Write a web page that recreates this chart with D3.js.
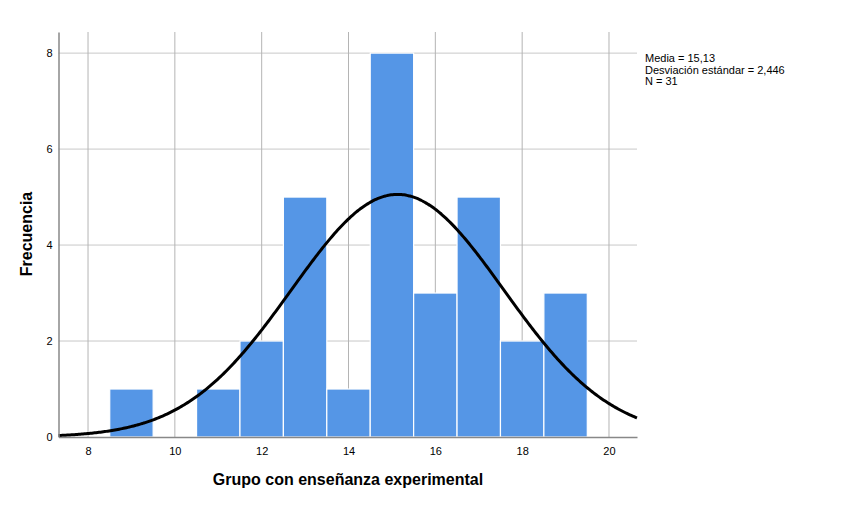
<!DOCTYPE html>
<html><head><meta charset="utf-8">
<script src="https://cdn.jsdelivr.net/npm/d3@7"></script>
<style>body{margin:0;background:#fff}svg{display:block}text{font-family:Arial,"Liberation Sans",sans-serif}</style>
</head><body>
<svg id="c" width="850" height="526"></svg>
<script>
const binCenters = [9, 11, 12, 13, 14, 15, 16, 17, 18, 19];
const frequencies = [1, 1, 2, 5, 1, 8, 3, 5, 2, 3];
const xTicks = [8, 10, 12, 14, 16, 18, 20];
const yTicks = [0, 2, 4, 6, 8];
const statsLines = ["Media = 15,13", "Desviación estándar = 2,446", "N = 31"];
const mean = 15.13, sd = 2.446, n = 31, binWidth = 1;

const svg = d3.select("#c");
const L = 58.5, R = 637, T = 32, B = 437;
const x = d3.scaleLinear().domain([7.32, 20.645]).range([L, R]);
const y = d3.scaleLinear().domain([0, 8.44]).range([B, T]);

// gridlines
svg.append("g").selectAll("line").data(yTicks.filter(d=>d>0)).join("line")
  .attr("x1", L).attr("x2", R).attr("y1", d=>y(d)).attr("y2", d=>y(d))
  .attr("stroke", "#c8c8c8").attr("stroke-width", 1);
svg.append("g").selectAll("line").data(xTicks).join("line")
  .attr("x1", d=>x(d)).attr("x2", d=>x(d)).attr("y1", T).attr("y2", B)
  .attr("stroke", "#b4b4b4").attr("stroke-width", 1);

// bars
svg.append("g").selectAll("rect").data(binCenters).join("rect")
  .attr("x", (d)=>x(d - binWidth/2))
  .attr("width", d=>x(d + binWidth/2) - x(d - binWidth/2))
  .attr("y", (d,i)=>y(frequencies[i]))
  .attr("height", (d,i)=>y(0) - y(frequencies[i]))
  .attr("fill", "#5596e6").attr("stroke", "#ffffff").attr("stroke-width", 1.2);

// normal curve from stated statistics
const pts = d3.range(0, 401).map(i => {
  const v = 7.32 + (20.645 - 7.32) * i / 400;
  return [v, n * binWidth / (sd * Math.sqrt(2*Math.PI)) * Math.exp(-0.5*((v-mean)/sd)**2)];
});
svg.append("path").datum(pts)
  .attr("d", d3.line().x(d=>x(d[0])).y(d=>y(d[1])).curve(d3.curveBasis))
  .attr("fill", "none").attr("stroke", "#000").attr("stroke-width", 3);

// axes
const xa = svg.append("g").attr("transform", `translate(0,${B})`)
  .call(d3.axisBottom(x).tickValues(xTicks).tickSize(0).tickPadding(10).tickFormat(d3.format("d")));
xa.select(".domain").attr("stroke", "#888").attr("stroke-width", 1.5);
xa.selectAll("text").attr("font-size", 11).attr("fill", "#000").attr("font-family", "Arial,'Liberation Sans',sans-serif");
const ya = svg.append("g").attr("transform", `translate(${L},0)`)
  .call(d3.axisLeft(y).tickValues(yTicks).tickSize(0).tickPadding(6).tickFormat(d3.format("d")));
ya.select(".domain").attr("stroke", "#888").attr("stroke-width", 1.5);
ya.selectAll("text").attr("font-size", 11).attr("fill", "#000").attr("font-family", "Arial,'Liberation Sans',sans-serif");

// titles
svg.append("text").attr("x", 348).attr("y", 485).attr("text-anchor", "middle")
  .attr("font-size", 16).attr("font-weight", "bold").text("Grupo con enseñanza experimental");
svg.append("text").attr("transform", "translate(32,234) rotate(-90)").attr("text-anchor", "middle")
  .attr("font-size", 16).attr("font-weight", "bold").text("Frecuencia");

// stats
svg.append("g").selectAll("text").data(statsLines).join("text")
  .attr("x", 645).attr("y", (d,i)=>62 + i*11.5).attr("font-size", 11).text(d=>d);
</script>
</body></html>
